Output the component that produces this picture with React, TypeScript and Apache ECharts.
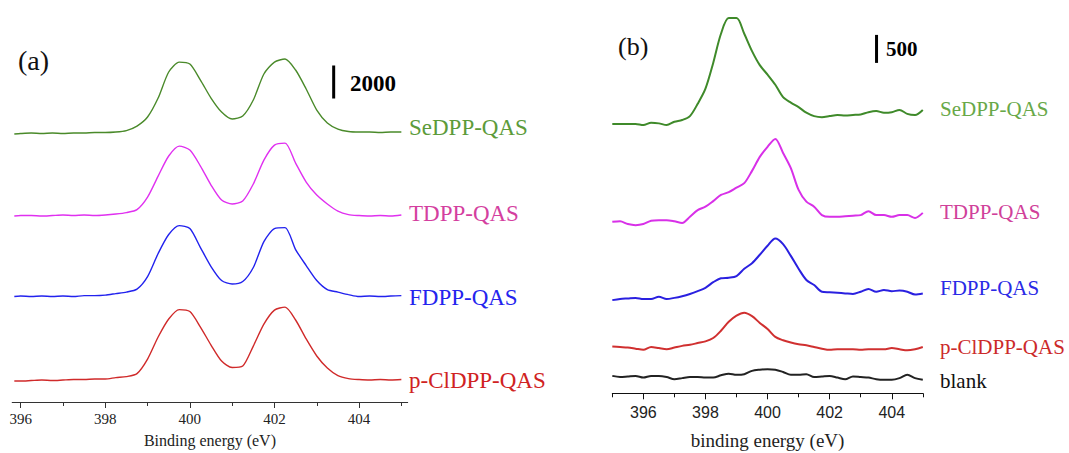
import React, { useEffect, useRef } from "react";
import * as echarts from "echarts";

// ---------- Panel (a) ----------
const energyA = [395.85, 396, 396.25, 396.5, 396.75, 397, 397.25, 397.5, 397.75, 398, 398.25, 398.5, 398.75, 399, 399.25, 399.5, 399.75, 400, 400.25, 400.5, 400.75, 401, 401.25, 401.5, 401.75, 402, 402.25, 402.5, 402.75, 403, 403.25, 403.5, 403.75, 404, 404.25, 404.5, 404.75, 405];
const seA = [0, 30, 60, 30, 60, 30, 60, 60, 90, 90, 120, 210, 480, 1030, 2180, 3760, 4360, 4240, 3270, 2180, 1330, 910, 1090, 2060, 3640, 4360, 4550, 3880, 2730, 1450, 670, 300, 150, 120, 120, 90, 120, 120];
const tA = [0, 30, 30, 0, 30, 60, 30, 60, 30, 60, 120, 210, 390, 1150, 2420, 3640, 4240, 4000, 3030, 1880, 970, 730, 910, 1940, 3390, 4300, 4420, 3210, 2060, 1270, 730, 300, 90, 30, 0, 30, 0, 60];
const fA = [0, 30, 0, 30, 0, 30, 0, 60, 60, 90, 180, 270, 450, 1210, 2610, 3760, 4300, 4120, 2970, 1820, 970, 760, 910, 1760, 3330, 4120, 4180, 2850, 1880, 970, 420, 270, 120, 0, 30, 0, 30, 60];
const clA = [0, 0, 30, 60, 30, 60, 90, 90, 120, 120, 210, 270, 450, 1330, 2670, 3760, 4330, 4210, 3270, 2180, 1210, 820, 910, 2120, 3450, 4300, 4480, 3700, 2550, 1520, 790, 330, 150, 90, 60, 90, 60, 90];
const namesA = ["SeDPP-QAS", "TDPP-QAS", "FDPP-QAS", "p-ClDPP-QAS"];
const offsetsA = [16240, 11270, 6390, 1270];
const majorTicksA = [396, 398, 400, 402, 404];
const minorTicksA = [397, 399, 401, 403, 405];
const scaleA = { x: 403.4, y0: 18400, len: 2000 };

// ---------- Panel (b) ----------
const energyB = [395, 395.25, 395.5, 395.75, 396, 396.25, 396.5, 396.75, 397, 397.25, 397.5, 397.75, 398, 398.25, 398.5, 398.75, 399, 399.25, 399.5, 399.75, 400, 400.25, 400.5, 400.75, 401, 401.25, 401.5, 401.75, 402, 402.25, 402.5, 402.75, 403, 403.25, 403.5, 403.75, 404, 404.25, 404.5, 404.75, 405];
const seB = [0, 0, 0, 0, -20, 20, 10, -20, 40, 70, 140, 360, 630, 1090, 1610, 1890, 1890, 1610, 1300, 1050, 880, 700, 480, 380, 300, 200, 140, 120, 140, 160, 150, 160, 170, 210, 230, 200, 210, 250, 180, 160, 250];
const tB = [20, 30, -20, -40, -20, 40, 50, 50, 30, 0, 110, 230, 290, 390, 500, 550, 630, 710, 930, 1180, 1360, 1500, 1250, 980, 590, 380, 290, 140, 110, 110, 120, 130, 140, 210, 140, 140, 110, 140, 140, 90, 180];
const fB = [-20, 0, 10, 20, 0, 0, 40, 0, 20, 50, 90, 140, 200, 300, 370, 380, 410, 540, 640, 790, 950, 1080, 980, 770, 540, 340, 250, 130, 120, 110, 100, 90, 130, 180, 130, 160, 140, 150, 130, 80, 100];
const clB = [10, 0, -10, -30, -50, 0, -20, -40, -10, 20, 40, 70, 100, 160, 290, 450, 560, 610, 550, 430, 320, 180, 120, 80, 50, 30, 0, -30, -50, -40, -40, -40, -50, -40, -40, -40, -20, -40, -60, -40, 0];
const blankB = [20, 0, 10, 20, -10, 20, 20, 0, -40, -20, 0, 0, -10, -10, 30, 60, 40, 50, 110, 130, 140, 130, 90, 40, 40, 50, 0, 10, 20, -10, -40, 10, 0, -10, -40, -50, -50, -20, 40, -20, -50];
const namesB = ["SeDPP-QAS", "TDPP-QAS", "FDPP-QAS", "p-ClDPP-QAS", "blank"];
const offsetsB = [4810, 3042, 1684, 827, 291];
const majorTicksB = [396, 398, 400, 402, 404];
const minorTicksB = [395, 397, 399, 401, 403, 405];
const scaleB = { x: 403.51, y0: 5900, len: 500 };

const SERIF = "'Liberation Serif', 'Times New Roman', serif";
const SANS = "'Liberation Sans', Arial, sans-serif";

const lineColorsA = ["#4a8a2a", "#e030f0", "#2222ee", "#d02a2a"];
const labelColorsA = ["#5c9b3a", "#d43f9f", "#2424ee", "#d02222"];
const labelYA = [127, 213, 297, 380];
const lineColorsB = ["#3f8a2a", "#d830e8", "#2a20e0", "#d03030", "#222222"];
const labelColorsB = ["#68a848", "#d0409a", "#2a2ae6", "#cc2a2a", "#111111"];
const labelYB = [109, 212, 288, 347, 381];

export default function App() {
  const ref = useRef<HTMLDivElement>(null);
  useEffect(() => {
    if (!ref.current) return;
    const chart = echarts.init(ref.current, null, { renderer: "svg" });
    const valsA = [seA, tA, fA, clA];
    const valsB = [seB, tB, fB, clB, blankB];

    const series: any[] = [];
    valsA.forEach((vals, k) => {
      series.push({
        type: "line",
        name: namesA[k] + " (a)",
        xAxisIndex: 0,
        yAxisIndex: 0,
        data: energyA.map((x, i) => [x, vals[i] + offsetsA[k]]),
        showSymbol: false,
        symbol: "none",
        smooth: 0.25,
        silent: true,
        lineStyle: { color: lineColorsA[k], width: 1.4 },
      });
    });
    valsB.forEach((vals, k) => {
      series.push({
        type: "line",
        name: namesB[k] + " (b)",
        xAxisIndex: 2,
        yAxisIndex: 1,
        data: energyB.map((x, i) => [x, vals[i] + offsetsB[k]]),
        showSymbol: false,
        symbol: "none",
        smooth: 0.3,
        silent: true,
        lineStyle: { color: lineColorsB[k], width: 2 },
      });
    });
    // scale bars
    series.push({
      type: "line",
      xAxisIndex: 0,
      yAxisIndex: 0,
      data: [[scaleA.x, scaleA.y0], [scaleA.x, scaleA.y0 + scaleA.len]],
      showSymbol: false,
      symbol: "none",
      silent: true,
      lineStyle: { color: "#000", width: 3 },
    });
    series.push({
      type: "line",
      xAxisIndex: 2,
      yAxisIndex: 1,
      data: [[scaleB.x, scaleB.y0], [scaleB.x, scaleB.y0 + scaleB.len]],
      showSymbol: false,
      symbol: "none",
      silent: true,
      lineStyle: { color: "#000", width: 3 },
    });

    const graphics: any[] = [];
    namesA.forEach((n, k) => {
      graphics.push({
        type: "text",
        x: 409,
        y: labelYA[k],
        style: { text: n, fill: labelColorsA[k], font: `23px ${SERIF}`, verticalAlign: "middle", align: "left" },
      });
    });
    namesB.forEach((n, k) => {
      graphics.push({
        type: "text",
        x: 940,
        y: labelYB[k],
        style: { text: n, fill: labelColorsB[k], font: `21px ${SERIF}`, verticalAlign: "middle", align: "left" },
      });
    });
    graphics.push({ type: "text", x: 18, y: 60, style: { text: "(a)", fill: "#111", font: `28px ${SERIF}`, verticalAlign: "middle" } });
    graphics.push({ type: "text", x: 618, y: 46, style: { text: "(b)", fill: "#111", font: `26px ${SERIF}`, verticalAlign: "middle" } });
    graphics.push({ type: "text", x: 350, y: 83, style: { text: String(scaleA.len), fill: "#000", font: `bold 23px ${SERIF}`, verticalAlign: "middle" } });
    graphics.push({ type: "text", x: 886, y: 49, style: { text: String(scaleB.len), fill: "#000", font: `bold 21px ${SERIF}`, verticalAlign: "middle" } });

    const mainAxis = (grid: number, min: number, max: number, majors: number[], font: string, size: number, margin: number, name: string, nameSize: number, nameGap: number, color: string) => ({
      type: "value",
      gridIndex: grid,
      min,
      max,
      position: "bottom",
      axisLine: { show: true, onZero: false, lineStyle: { color, width: 1 } },
      axisTick: { show: true, customValues: majors, length: 6, inside: false, lineStyle: { color, width: 1 } },
      axisLabel: { show: true, customValues: majors, fontFamily: font, fontSize: size, color: "#222", margin },
      splitLine: { show: false },
      name,
      nameLocation: "middle",
      nameGap,
      nameTextStyle: { fontFamily: SERIF, fontSize: nameSize, color: "#222" },
    });
    const minorAxis = (grid: number, min: number, max: number, minors: number[], color: string) => ({
      type: "value",
      gridIndex: grid,
      min,
      max,
      position: "bottom",
      axisLine: { show: false, onZero: false },
      axisTick: { show: true, customValues: minors, length: 4, inside: false, lineStyle: { color, width: 1 } },
      axisLabel: { show: false },
      splitLine: { show: false },
    });

    chart.setOption({
      animation: false,
      backgroundColor: "#ffffff",
      grid: [
        { left: 12.2, top: 39, width: 395.5, height: 363, containLabel: false, outerBoundsMode: "none" },
        { left: 612.3, top: 1.3, width: 310.5, height: 392, containLabel: false, outerBoundsMode: "none" },
      ],
      xAxis: [
        mainAxis(0, 395.8, 405.15, majorTicksA, SERIF, 15, 9, "Binding energy (eV)", 16, 30, "#333"),
        minorAxis(0, 395.8, 405.15, minorTicksA, "#333"),
        mainAxis(1, 395, 405, majorTicksB, SANS, 16, 11, "binding energy (eV)", 19, 38, "#111"),
        minorAxis(1, 395, 405, minorTicksB, "#111"),
      ],
      yAxis: [
        { type: "value", gridIndex: 0, min: 0, max: 22000, show: false, splitLine: { show: false } },
        { type: "value", gridIndex: 1, min: 0, max: 7000, show: false, splitLine: { show: false } },
      ],
      series,
      graphic: graphics,
    });
    return () => chart.dispose();
  }, []);
  return (
    <div
      ref={ref}
      style={{ position: "fixed", left: 0, top: 0, width: 1069, height: 453, background: "#fff" }}
    />
  );
}
